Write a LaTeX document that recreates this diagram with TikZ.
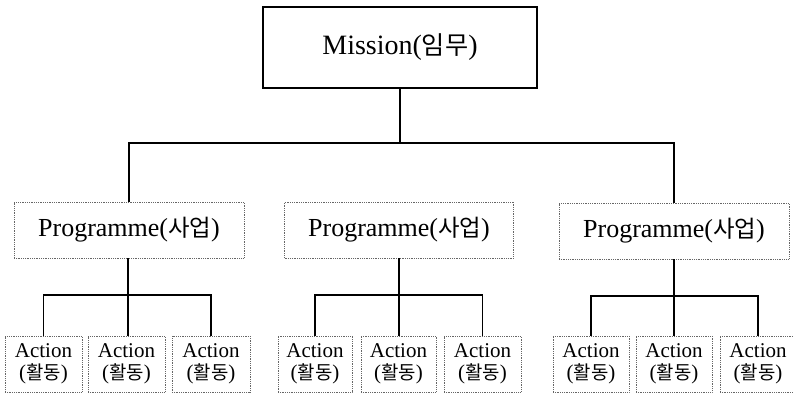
\documentclass[tikz,border=0pt]{standalone}
\usepackage{fontspec}
\setmainfont{Liberation Serif}
\newfontfamily\kr{Noto Sans CJK KR}
\newcommand\K[1]{{\kr\fontsize{0.9em}{1em}\selectfont #1}}
\begin{document}
\begin{tikzpicture}[x=1pt,y=-1pt,
  conn/.style={line width=1.5pt,black},
  mbox/.style={draw,line width=1.2pt,minimum width=274pt,minimum height=81pt,inner sep=0pt,font=\fontsize{28}{30}\selectfont},
  pbox/.style={draw=black!60,densely dotted,line width=0.8pt,minimum width=230pt,minimum height=56pt,inner sep=0pt,font=\fontsize{26}{28}\selectfont},
  abox/.style={draw=black!60,densely dotted,line width=0.8pt,minimum width=76pt,minimum height=56pt,inner sep=0pt,align=center,font=\fontsize{21}{22}\selectfont}]
\useasboundingbox (0,0) rectangle (793,393);
\node[mbox] (M) at (400,47.5) {Mission(\K{임무})};
\node[pbox] (PL) at (129,230) {Programme(\K{사업})};
\node[pbox,minimum width=229pt] (PM) at (399,230) {Programme(\K{사업})};
\node[pbox] (PR) at (674,231) {Programme(\K{사업})};
\node[abox,minimum width=77pt] (L1) at (43.5,364) {Action\\(\K{활동})};
\node[abox,minimum width=77pt] (L2) at (126.5,364) {Action\\(\K{활동})};
\node[abox,minimum width=78pt] (L3) at (211,364) {Action\\(\K{활동})};
\node[abox,minimum width=74pt] (M1) at (315,364) {Action\\(\K{활동})};
\node[abox,minimum width=75pt] (M2) at (398.5,364) {Action\\(\K{활동})};
\node[abox,minimum width=77pt] (M3) at (482.5,364) {Action\\(\K{활동})};
\node[abox] (R1) at (591,364) {Action\\(\K{활동})};
\node[abox] (R2) at (674,364) {Action\\(\K{활동})};
\node[abox] (R3) at (758,364) {Action\\(\K{활동})};
\coordinate (top) at (400,143);
\draw[conn] (M.south) -- (top);
\draw[conn] (PL.north) |- (top) -| (PR.north);
\coordinate (hL) at (128,295);
\coordinate (hM) at (399,295);
\coordinate (hR) at (674,296);
\draw[conn] (hL |- PL.south) -- (hL) -- (hL |- L2.north);
\draw[conn] (L1.north) |- (hL) -| (L3.north);
\draw[conn] (hM |- PM.south) -- (hM) -- (hM |- M2.north);
\draw[conn] (M1.north) |- (hM) -| (M3.north);
\draw[conn] (PR.south) -- (hR) -- (R2.north);
\draw[conn] (R1.north) |- (hR) -| (R3.north);
\end{tikzpicture}
\end{document}
